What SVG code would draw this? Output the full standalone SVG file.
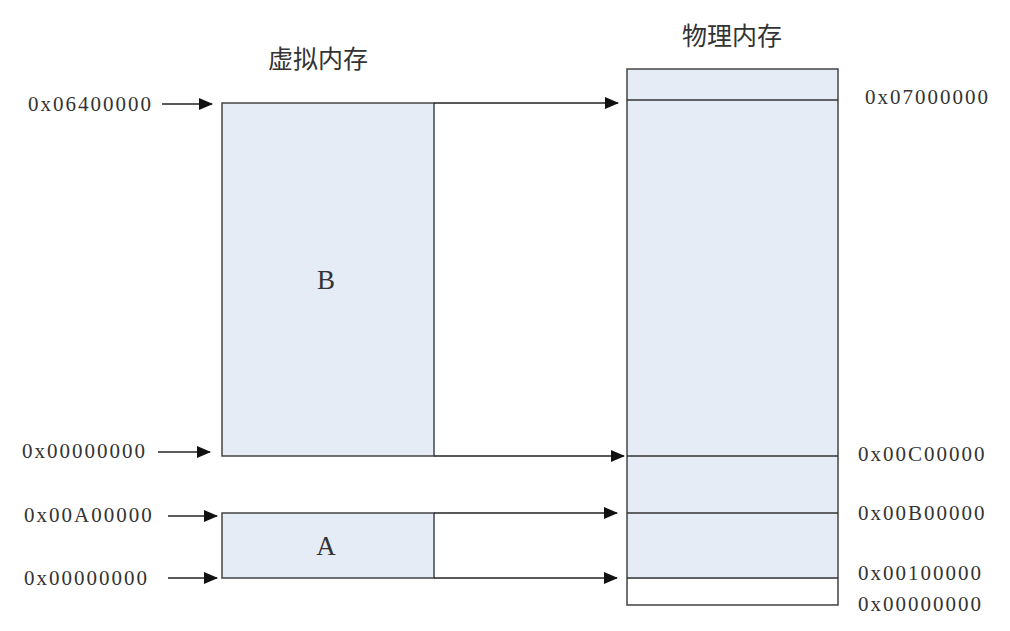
<svg xmlns="http://www.w3.org/2000/svg" width="1010" height="631" viewBox="0 0 1010 631">
<style>
.t{font-family:"Liberation Serif","Noto Sans CJK SC",serif;font-size:21px;letter-spacing:2px;fill:#333}
.L{font-family:"Liberation Serif",serif;font-size:27px;fill:#333;text-anchor:middle}
.h{font-family:"Noto Sans CJK SC",serif;font-size:25px;fill:#333;text-anchor:middle}
.box{fill:#e6ecf6;stroke:#444;stroke-width:1.5}
.c line{stroke:#222;stroke-width:1.5;marker-end:url(#a)}
</style>
<defs><marker id="a" markerWidth="14" markerHeight="12" refX="13" refY="6" orient="auto" markerUnits="userSpaceOnUse"><path d="M0,0L14,6L0,12z" fill="#111"/></marker></defs>
<rect width="1010" height="631" fill="#fff"/>
<text class="h" x="318" y="68">虚拟内存</text>
<text class="h" x="732" y="45">物理内存</text>
<g id="phys">
<rect class="box" x="627" y="69" width="211" height="536"/>
<rect x="628" y="579" width="209" height="25" fill="#fff"/>
<g stroke="#333" stroke-width="1.5"><line x1="627" y1="100" x2="838" y2="100"/><line x1="627" y1="456" x2="838" y2="456"/><line x1="627" y1="513" x2="838" y2="513"/><line x1="627" y1="578" x2="838" y2="578"/></g>
</g>
<g id="B"><rect class="box" x="222" y="103" width="212" height="353"/><text class="L" x="326" y="289">B</text></g>
<g id="A"><rect class="box" x="222" y="513" width="212" height="65"/><text class="L" x="326" y="555">A</text></g>
<g class="c">
<line x1="434" y1="103" x2="618" y2="103"/>
<line x1="434" y1="456" x2="624" y2="456"/>
<line x1="434" y1="513" x2="617" y2="513"/>
<line x1="434" y1="578" x2="617" y2="578"/>
<line x1="162" y1="104" x2="212" y2="104"/>
<line x1="158" y1="452" x2="210" y2="452"/>
<line x1="168" y1="516" x2="217" y2="516"/>
<line x1="168" y1="578" x2="217" y2="578"/>
</g>
<text class="t" x="28" y="111">0x06400000</text>
<text class="t" x="22" y="458">0x00000000</text>
<text class="t" x="24" y="522">0x00A00000</text>
<text class="t" x="24" y="585">0x00000000</text>
<text class="t" x="865" y="104">0x07000000</text>
<text class="t" x="858" y="461">0x00C00000</text>
<text class="t" x="858" y="520">0x00B00000</text>
<text class="t" x="858" y="580">0x00100000</text>
<text class="t" x="858" y="611">0x00000000</text>
</svg>
